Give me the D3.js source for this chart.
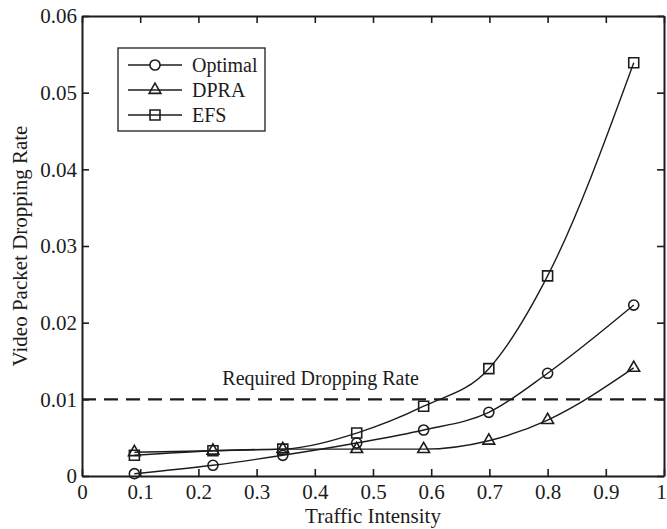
<!DOCTYPE html>
<html>
<head>
<meta charset="utf-8">
<script src="https://cdn.jsdelivr.net/npm/d3@7"></script>
<style>
  body { margin: 0; background: #fff; }
  text { font-family: "Liberation Serif", "Times New Roman", serif; fill: #1c1c1c; }
</style>
</head>
<body>
<svg id="chart" width="667" height="529"></svg>
<script>
//==========================
//  Data
//==========================
var intensity = [0.09, 0.225, 0.345, 0.472, 0.587, 0.699, 0.8, 0.948];
var optimal   = [0.0003, 0.0014, 0.0027, 0.0043, 0.0060, 0.0083, 0.0134, 0.0223];
var dpra      = [0.0031, 0.0033, 0.0035, 0.0035, 0.0035, 0.0046, 0.0073, 0.0141];
var efs       = [0.0027, 0.0033, 0.0035, 0.0056, 0.0091, 0.0140, 0.0261, 0.0539];
var seriesNames = ["Optimal", "DPRA", "EFS"];
var xTicks = [0, 0.1, 0.2, 0.3, 0.4, 0.5, 0.6, 0.7, 0.8, 0.9, 1];
var yTicks = [0, 0.01, 0.02, 0.03, 0.04, 0.05, 0.06];
var requiredRate = 0.01;

//==========================
//  Canvas and scales
//==========================
var margin = {top: 16, right: 3, bottom: 53, left: 82};
var svg = d3.select("#chart");
var width = 667 - margin.left - margin.right;
var height = 529 - margin.top - margin.bottom;
var g = svg.append("g").attr("transform", "translate(" + margin.left + "," + margin.top + ")");

var x = d3.scaleLinear().domain([0, 1]).range([0, width]);
var y = d3.scaleLinear().domain([0, 0.06]).range([height, 0]);

var fmt = function(d) { return String(+d.toFixed(2)); };
var ink = "#1c1c1c";

//Axes, ticks pointing inward on all four sides
var xAxis = g.append("g").attr("transform", "translate(0," + height + ")")
  .call(d3.axisBottom(x).tickValues(xTicks).tickFormat(fmt).tickSizeInner(-7).tickSizeOuter(0).tickPadding(8));
g.append("g")
  .call(d3.axisTop(x).tickValues(xTicks).tickFormat("").tickSizeInner(-7).tickSizeOuter(0));
g.append("g")
  .call(d3.axisLeft(y).tickValues(yTicks).tickFormat(fmt).tickSizeInner(-7).tickSizeOuter(0).tickPadding(5));
g.append("g").attr("transform", "translate(" + width + ",0)")
  .call(d3.axisRight(y).tickValues(yTicks).tickFormat("").tickSizeInner(-7).tickSizeOuter(0));

g.selectAll(".domain").attr("stroke", ink).attr("stroke-width", 2);
g.selectAll(".tick line").attr("stroke", ink).attr("stroke-width", 1.6);
g.selectAll(".tick text").attr("font-size", 21).attr("font-family", null).style("fill", ink);
//keep the last "1" inside the picture
xAxis.selectAll(".tick text").filter(function(d) { return d === 1; }).attr("dx", -3);

//Axis titles
g.append("text")
  .attr("x", width / 2).attr("y", height + 47)
  .attr("text-anchor", "middle").attr("font-size", 21)
  .text("Traffic Intensity");
g.append("text")
  .attr("transform", "translate(" + (-55) + "," + (height / 2) + ") rotate(-90)")
  .attr("text-anchor", "middle").attr("font-size", 21)
  .text("Video Packet Dropping Rate");

//Required dropping rate
g.append("line")
  .attr("x1", 0).attr("x2", width)
  .attr("y1", y(requiredRate)).attr("y2", y(requiredRate))
  .attr("stroke", ink).attr("stroke-width", 2.2).attr("stroke-dasharray", "14,8");
g.append("text")
  .attr("x", x(0.41)).attr("y", y(requiredRate) - 14)
  .attr("text-anchor", "middle").attr("font-size", 20)
  .text("Required Dropping Rate");

//==========================
//  Series
//==========================
var series = [
  {name: seriesNames[0], values: optimal, symbol: d3.symbolCircle, size: 80},
  {name: seriesNames[1], values: dpra, symbol: d3.symbolTriangle, size: 60},
  {name: seriesNames[2], values: efs, symbol: d3.symbolSquare, size: 100}
];

var line = d3.line()
  .x(function(d) { return x(d[0]); })
  .y(function(d) { return y(d[1]); })
  .curve(d3.curveMonotoneX);

series.forEach(function(s) {
  var pts = intensity.map(function(v, i) { return [v, s.values[i]]; });
  g.append("path").datum(pts)
    .attr("d", line).attr("fill", "none")
    .attr("stroke", ink).attr("stroke-width", 1.4);
  g.selectAll(null).data(pts).enter().append("path")
    .attr("d", d3.symbol().type(s.symbol).size(s.size))
    .attr("transform", function(d) { return "translate(" + x(d[0]) + "," + y(d[1]) + ")"; })
    .attr("fill", "none").attr("stroke", ink).attr("stroke-width", 1.6);
});

//==========================
//  Legend
//==========================
var legend = g.append("g").attr("transform", "translate(36,32)");
legend.append("rect")
  .attr("width", 147).attr("height", 83)
  .attr("fill", "#fff").attr("stroke", ink).attr("stroke-width", 1.3);
series.forEach(function(s, i) {
  var ly = 17 + i * 25;
  legend.append("line").attr("x1", 10).attr("x2", 64).attr("y1", ly).attr("y2", ly)
    .attr("stroke", ink).attr("stroke-width", 1.4);
  legend.append("path")
    .attr("d", d3.symbol().type(s.symbol).size(s.size))
    .attr("transform", "translate(37," + ly + ")")
    .attr("fill", s.symbol === d3.symbolCircle ? "#fff" : "none")
    .attr("stroke", ink).attr("stroke-width", 1.6);
  legend.append("text").attr("x", 74).attr("y", ly).attr("dy", "0.35em")
    .attr("font-size", 20).text(s.name);
});
</script>
</body>
</html>
